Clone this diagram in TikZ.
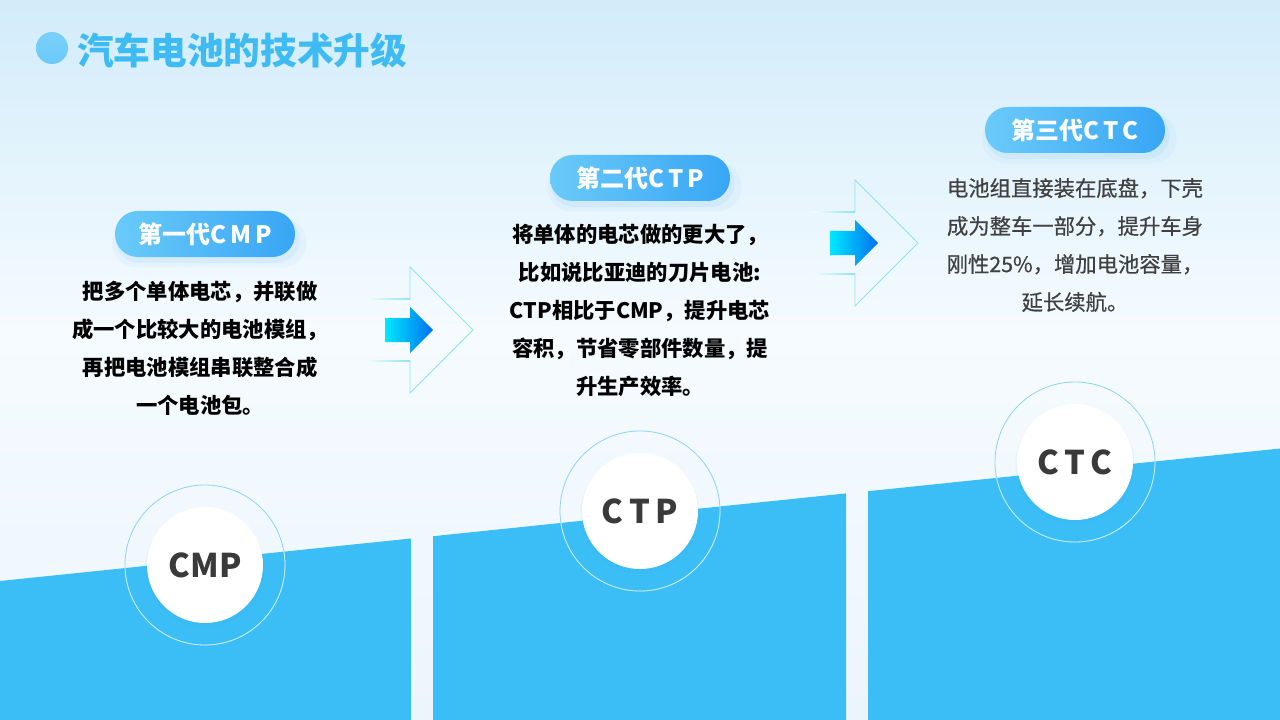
\documentclass[tikz,border=0pt]{standalone}
\usepackage{fontspec}
\setmainfont{Noto Sans CJK SC}
\newfontfamily\midfont{Noto Sans CJK SC}[FakeBold=0.5]
\usetikzlibrary{shadows}
\definecolor{bgtop}{HTML}{D2ECFA}
\definecolor{bgmid}{HTML}{F5FBFF}
\definecolor{bgbot}{HTML}{EDF5FC}
\definecolor{stepblue}{HTML}{3BBDF5}
\definecolor{titleblue}{HTML}{3DBBF2}
\definecolor{pillleft}{HTML}{6ACAF9}
\definecolor{pillright}{HTML}{38A6F5}
\definecolor{ringblue}{HTML}{8CD3F2}
\definecolor{ringlight}{HTML}{C6EBFB}
\definecolor{chevron}{HTML}{8DE3F2}
\definecolor{arrowcyan}{HTML}{00E8FF}
\definecolor{arrowblue}{HTML}{0070F0}
\definecolor{bodygray}{HTML}{404040}
\definecolor{codegray}{HTML}{3A3A3A}
\tikzset{
  pill/.style={rounded corners=17pt, minimum width=135pt, minimum height=34.5pt, left color=pillleft, right color=pillright, text=white, font=\bfseries\fontsize{18}{20}\selectfont,
    general shadow={shadow scale=1.08, shadow xshift=3pt, shadow yshift=-6pt, fill=pillright, opacity=0.05},
    general shadow={shadow scale=1.02, shadow xshift=2pt, shadow yshift=-4pt, fill=pillright, opacity=0.08}},
  bodytext/.style={align=center, inner sep=0pt, text=black, font=\bfseries\fontsize{16}{28.5}\selectfont},
  codedisc/.style={circle, fill=white, minimum size=87pt, inner sep=0pt, text=codegray, font=\bfseries\fontsize{24.5}{26}\selectfont,
    general shadow={shadow scale=1.03, shadow yshift=-2pt, fill=pillright, opacity=0.06}},
  pics/stepflow/.style={code={
    \shade[left color=bgmid, right color=chevron] (-43,-31.6) rectangle (0,-30.6);
    \shade[left color=bgmid, right color=chevron] (-43,30.6) rectangle (0,31.6);
    \draw[chevron, line width=0.7pt] (0,-31) -- (0,-63) -- (63,0) -- (0,63) -- (0,31);
    \shade[left color=arrowcyan, right color=arrowblue] (-25,-12) -- (0,-12) -- (0,-23) -- (23,0) -- (0,23) -- (0,12) -- (-25,12) -- cycle;
  }}
}
\begin{document}
\begin{tikzpicture}[x=0.75pt,y=-0.75pt]
\useasboundingbox (0,0) rectangle (1280,720);
\shade[top color=bgtop, bottom color=bgmid] (0,0) rectangle (1280,330);
\shade[top color=bgmid, bottom color=bgbot] (0,329.5) rectangle (1280,720);
\fill[stepblue] (0,581) -- (411,538.5) -- (411,720) -- (0,720) -- cycle;
\fill[stepblue] (433,536.2) -- (846,493.4) -- (846,720) -- (433,720) -- cycle;
\fill[stepblue] (868,491.2) -- (1280,448.5) -- (1280,720) -- (868,720) -- cycle;
\coordinate (cmp) at (205,565);
\coordinate (ctp) at (640,511);
\coordinate (ctc) at (1075,462);
\foreach \c in {cmp,ctp,ctc}
  \draw[ringblue, line width=0.6pt] (\c) circle[radius=80];
\begin{scope}
\clip (0,581) -- (411,538.5) -- (411,720) -- (0,720) -- cycle
      (433,536.2) -- (846,493.4) -- (846,720) -- (433,720) -- cycle
      (868,491.2) -- (1280,448.5) -- (1280,720) -- (868,720) -- cycle;
\foreach \c in {cmp,ctp,ctc}
  \draw[ringlight, line width=0.6pt] (\c) circle[radius=80];
\end{scope}
\node[codedisc] (disc1) at (cmp) {CMP};
\node[codedisc] (disc2) at (ctp) {C\,T\,P};
\node[codedisc] (disc3) at (ctc) {C\,T\,C};
\shade[top color=pillleft!90!white, bottom color=pillleft] (52,48) circle[radius=16];
\node[anchor=west, inner sep=0pt, text=titleblue, font=\bfseries\fontsize{27.5}{30}\selectfont] (title) at (77,50) {汽车电池的技术升级};
\node[pill] (gen1) at (205,234) {第一代C\,M\,P};
\node[pill] (gen2) at (640,178) {第二代C\,T\,P};
\node[pill] (gen3) at (1075,130) {第三代C\,T\,C};
\node[bodytext] (text1) at (200,348) {把多个单体电芯，并联做\\成一个比较大的电池模组，\\再把电池模组串联整合成\\一个电池包。};
\node[bodytext] (text2) at (640,310.5) {将单体的电芯做的更大了，\\比如说比亚迪的刀片电池:\\CTP相比于CMP，提升电芯\\容积，节省零部件数量，提\\升生产效率。};
\node[bodytext, text=bodygray, font=\midfont\fontsize{16}{28.5}\selectfont] (text3) at (1075,245) {电池组直接装在底盘，下壳\\成为整车一部分，提升车身\\刚性25\%，增加电池容量，\\延长续航。};
\pic at (410,330) {stepflow};
\pic at (855,243) {stepflow};
\end{tikzpicture}
\end{document}
